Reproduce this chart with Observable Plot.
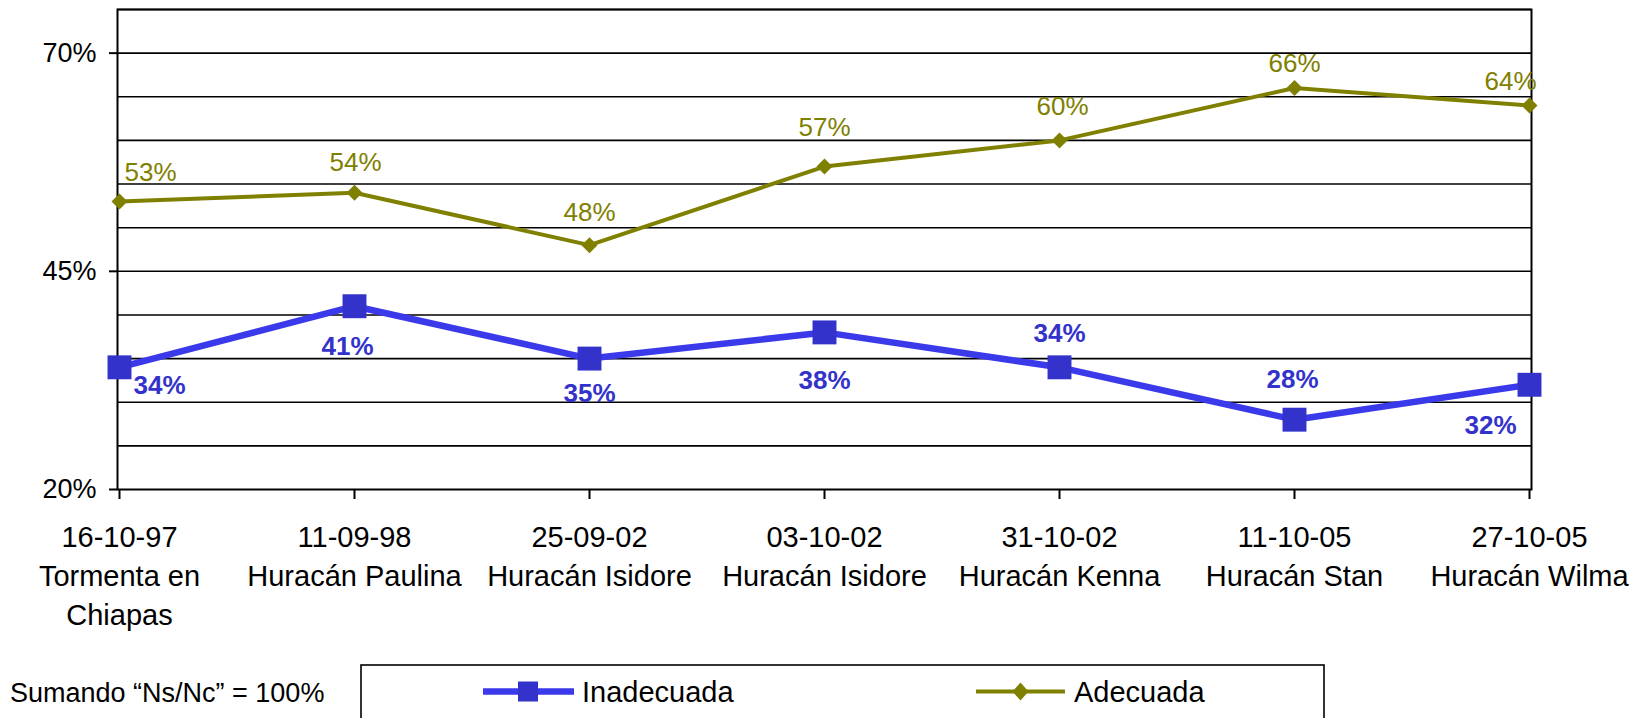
<!DOCTYPE html>
<html><head><meta charset="utf-8">
<script src="https://cdn.jsdelivr.net/npm/d3@7"></script>
<script src="https://cdn.jsdelivr.net/npm/@observablehq/plot@0.6"></script>
<style>
body{margin:0;background:#fff;font-family:"Liberation Sans",Arial,sans-serif;}
#wrap{position:relative;width:1641px;height:718px;overflow:hidden;background:#fff;}
#chart svg{display:block;}
#legend{position:absolute;left:0;top:650px;}
</style></head>
<body><div id="wrap"><div id="chart"></div>
<svg id="legend" width="1641" height="68"></svg></div>
<script>
// ---- data ----
const fechas = ["16-10-97","11-09-98","25-09-02","03-10-02","31-10-02","11-10-05","27-10-05"];
const eventos = ["Tormenta en\nChiapas","Huracán Paulina","Huracán Isidore","Huracán Isidore","Huracán Kenna","Huracán Stan","Huracán Wilma"];
const inadecuada = [34,41,35,38,34,28,32];
const adecuada = [53,54,48,57,60,66,64];
const yTickValues = [20,45,70];
const yGridValues = [25,30,35,40,45,50,55,60,65,70,75];
const seriesNames = ["Inadecuada","Adecuada"];
const nota = "Sumando “Ns/Nc” = 100%";

// ---- styles (label offsets in px) ----
const offInad = [[40,18],[-7,40],[0,35],[0,48],[0,-34],[-2,-40],[-39,41]];
const offAdec = [[31,-29],[1,-30],[0,-32],[0,-39],[3,-34],[0,-24],[-19,-24]];
const blueLine = "#3a3aeb", blueMark = "#3333cc", olive = "#808000";

const cats = fechas.map((f,i)=>f+"\n"+eventos[i]);
const rowsI = cats.map((c,i)=>({cat:c, v:inadecuada[i], i}));
const rowsA = cats.map((c,i)=>({cat:c, v:adecuada[i], i}));

const labelMarks = [];
rowsI.forEach((r,i)=>labelMarks.push(Plot.text([r],{x:"cat",y:"v",text:d=>d.v+"%",dx:offInad[i][0],dy:offInad[i][1],fill:blueMark,fontWeight:"bold",fontSize:26})));
rowsA.forEach((r,i)=>labelMarks.push(Plot.text([r],{x:"cat",y:"v",text:d=>d.v+"%",dx:offAdec[i][0],dy:offAdec[i][1],fill:olive,fontSize:26})));

const chart = Plot.plot({
  width:1641, height:650,
  marginLeft:117, marginRight:110, marginTop:9, marginBottom:161,
  style:{fontFamily:'"Liberation Sans",Arial,sans-serif', color:"black", background:"white", overflow:"visible"},
  x:{type:"point", domain:cats, padding:0, label:null},
  y:{domain:[20,75], label:null},
  marks:[
    Plot.ruleY(yGridValues,{stroke:"black",strokeWidth:1.6}),
    Plot.frame({stroke:"black",strokeWidth:2}),
    Plot.axisY(yTickValues,{tickFormat:d=>d+"%",fontSize:27,tickSize:8,tickPadding:13,strokeWidth:2,label:null}),
    Plot.axisX({tickSize:10,tickPadding:20,fontSize:29,lineHeight:1.34,strokeWidth:2,tickFormat:d=>d,label:null}),
    Plot.line(rowsA,{x:"cat",y:"v",stroke:olive,strokeWidth:4}),
    Plot.dot(rowsA,{x:"cat",y:"v",symbol:"diamond2",r:7.2,fill:olive,stroke:"none"}),
    Plot.line(rowsI,{x:"cat",y:"v",stroke:blueLine,strokeWidth:6.5}),
    Plot.dot(rowsI,{x:"cat",y:"v",symbol:"square",r:13.5,fill:blueMark,stroke:"none"}),
    ...labelMarks
  ]
});
document.getElementById("chart").appendChild(chart);

// ---- legend & note ----
const lg = d3.select("#legend");
lg.append("text").attr("x",10).attr("y",51.5).attr("font-size",27).text(nota);
lg.append("rect").attr("x",361).attr("y",15).attr("width",963).attr("height",80).attr("fill","none").attr("stroke","black").attr("stroke-width",1.6);
lg.append("line").attr("x1",483).attr("x2",574).attr("y1",41.5).attr("y2",41.5).attr("stroke",blueLine).attr("stroke-width",6.5);
lg.append("rect").attr("x",518).attr("y",31.5).attr("width",20).attr("height",20).attr("fill",blueMark);
lg.append("text").attr("x",582).attr("y",51.5).attr("font-size",29).text(seriesNames[0]);
lg.append("line").attr("x1",976).attr("x2",1065).attr("y1",41.5).attr("y2",41.5).attr("stroke",olive).attr("stroke-width",4);
lg.append("path").attr("d","M1020.5,32.5L1028.5,41.5L1020.5,50.5L1012.5,41.5Z").attr("fill",olive);
lg.append("text").attr("x",1074).attr("y",51.5).attr("font-size",29).text(seriesNames[1]);
</script>
</body></html>
